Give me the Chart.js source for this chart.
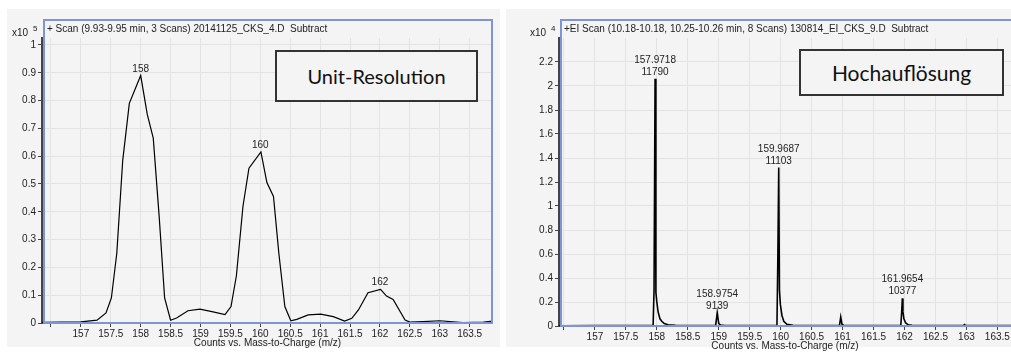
<!DOCTYPE html>
<html>
<head>
<meta charset="utf-8">
<script src="https://cdn.jsdelivr.net/npm/chart.js@4.4.0/dist/chart.umd.min.js"></script>
<style>
  body { margin: 0; background: #fff; width: 1011px; height: 353px; overflow: hidden; position: relative; }
  .panel { position: absolute; top: 9px; height: 338px; background: #f4f4f4; }
  #panelLeft { left: 7px; width: 493px; }
  #panelRight { left: 506px; width: 505px; }
  canvas { position: absolute; top: 0; }
  #leftChart { left: 0; }
  #rightChart { left: 505px; }
  .note {
    position: absolute; box-sizing: border-box; border: 2px solid #333; background: #f4f4f4;
    font-family: Lato, "Open Sans", sans-serif; font-size: 20px; color: #111;
    display: flex; align-items: center; justify-content: center;
  }
</style>
</head>
<body>
<div class="panel" id="panelLeft"></div>
<div class="panel" id="panelRight"></div>
<canvas id="leftChart" width="505" height="353"></canvas>
<canvas id="rightChart" width="506" height="353"></canvas>
<div class="note" style="left:275px;top:50px;width:203px;height:52px;">Unit-Resolution</div>
<div class="note" style="left:799px;top:49px;width:205px;height:47px;font-size:21px;">Hochauflösung</div>

<script>
// x-axis ticks (m/z), shared by both spectra
const mzTicks = [156.5, 157, 157.5, 158, 158.5, 159, 159.5, 160, 160.5, 161, 161.5, 162, 162.5, 163, 163.5];

// unit resolution scan, counts x10^5
const leftMz = [156.35, 157.0, 157.27, 157.42, 157.51, 157.60, 157.70, 157.81, 158.0, 158.11, 158.21, 158.31,
  158.40, 158.50, 158.60, 158.79, 158.99, 159.21, 159.41, 159.51, 159.60, 159.71, 159.81, 160.01, 160.11,
  160.22, 160.31, 160.41, 160.51, 160.61, 160.80, 161.01, 161.22, 161.41, 161.53, 161.64, 161.80, 162.01,
  162.11, 162.22, 162.42, 162.50, 162.72, 163.00, 163.39, 163.73, 163.89];
const leftCounts = [0.002, 0.004, 0.01, 0.036, 0.09, 0.25, 0.586, 0.79, 0.89, 0.75, 0.665, 0.38,
  0.09, 0.01, 0.018, 0.044, 0.05, 0.04, 0.03, 0.059, 0.17, 0.42, 0.557, 0.615, 0.505,
  0.455, 0.25, 0.059, 0.008, 0.013, 0.029, 0.032, 0.023, 0.007, 0.017, 0.047, 0.109, 0.121,
  0.097, 0.085, 0.011, 0.003, 0.005, 0.008, 0.001, 0.003, 0.007];
const leftYTicks = [0, 0.1, 0.2, 0.3, 0.4, 0.5, 0.6, 0.7, 0.8, 0.9, 1];
const leftPeakMz = [158, 160, 162];
const leftPeakTop = [0.89, 0.615, 0.121];
const leftPeakText = [['158'], ['160'], ['162']];

// high resolution scan, counts x10^4
const rightMz = [156.42, 157.0, 157.5, 157.94, 157.955, 157.9718, 157.985, 158.0, 158.02, 158.05, 158.08,
  158.12, 158.18, 158.3, 158.5, 158.7, 158.95, 158.9754, 159.0, 159.03, 159.1, 159.5, 159.94, 159.955,
  159.9687, 159.98, 159.995, 160.02, 160.05, 160.1, 160.2, 160.5, 160.95, 160.97, 160.99, 161.02, 161.5,
  161.94, 161.955, 161.9654, 161.975, 161.99, 162.02, 162.06, 162.12, 162.5, 162.95, 162.97, 162.99,
  163.5, 163.72];
const rightCounts = [0.002, 0.004, 0.003, 0.003, 0.3, 2.06, 0.28, 0.2, 0.12, 0.06, 0.04,
  0.02, 0.01, 0.005, 0.003, 0.003, 0.005, 0.11, 0.02, 0.008, 0.004, 0.003, 0.003, 0.6,
  1.32, 0.3, 0.18, 0.09, 0.04, 0.015, 0.006, 0.003, 0.005, 0.075, 0.015, 0.005, 0.003,
  0.004, 0.12, 0.23, 0.12, 0.06, 0.025, 0.01, 0.005, 0.003, 0.004, 0.012, 0.004,
  0.003, 0.003];
const rightYTicks = [0, 0.2, 0.4, 0.6, 0.8, 1, 1.2, 1.4, 1.6, 1.8, 2, 2.2];
const rightPeakMz = [157.9718, 158.9754, 159.9687, 161.9654];
const rightPeakTop = [2.06, 0.11, 1.32, 0.23];
const rightPeakText = [['157.9718', '11790'], ['158.9754', '9139'], ['159.9687', '11103'], ['161.9654', '10377']];

const textColor = '#222';
const smallFont = { family: '"Liberation Sans", Arial, sans-serif', size: 10 };

function spectrumChart(id, o) {
  const framePlugin = {
    id: 'frame' + id,
    afterDraw(chart) {
      const ctx = chart.ctx;
      const a = chart.chartArea;
      const xs = chart.scales.x, ys = chart.scales.y;
      ctx.save();
      // blue frame
      ctx.strokeStyle = '#7f93d9';
      ctx.lineWidth = 2;
      ctx.beginPath();
      ctx.moveTo(a.left + 2, a.bottom);
      ctx.lineTo(a.left + 2, 20);
      ctx.lineTo(a.right + (o.openRight ? 5 : -1), 20);
      ctx.lineTo(a.right + (o.openRight ? 5 : -1), a.bottom);
      ctx.closePath();
      ctx.stroke();
      // header text
      ctx.fillStyle = textColor;
      ctx.font = '10px "Liberation Sans", Arial, sans-serif';
      ctx.textBaseline = 'middle';
      ctx.textAlign = 'left';
      ctx.fillText(o.header, a.left + 5, 29);
      // exponent
      ctx.fillText('x10', o.expX, 33);
      ctx.font = '8px "Liberation Sans", Arial, sans-serif';
      ctx.fillText(o.exponent, o.expX + 21, 29);
      // peak labels
      ctx.font = '10px "Liberation Sans", Arial, sans-serif';
      ctx.textAlign = 'center';
      ctx.textBaseline = 'alphabetic';
      o.peakMz.forEach((m, i) => {
        const px = xs.getPixelForValue(m);
        const py = ys.getPixelForValue(o.peakTop[i]);
        const lines = o.peakText[i];
        lines.forEach((t, k) => {
          ctx.fillText(t, px, py - 4 - (lines.length - 1 - k) * 12);
        });
      });
      ctx.restore();
    }
  };

  return new Chart(document.getElementById(id), {
    type: 'line',
    data: {
      datasets: [{
        data: o.mz.map((m, i) => ({ x: m, y: o.counts[i] })),
        borderColor: '#000',
        borderWidth: o.lineWidth,
        pointRadius: 0,
        tension: 0
      }]
    },
    options: {
      responsive: false,
      animation: false,
      events: [],
      layout: { padding: { top: 38, right: o.padRight, left: 0, bottom: 0 } },
      plugins: { legend: { display: false }, tooltip: { enabled: false } },
      scales: {
        x: {
          type: 'linear',
          min: o.xMin,
          max: o.xMax,
          afterFit: s => { s.height = o.xAxisHeight; },
          afterBuildTicks: s => { s.ticks = mzTicks.map(v => ({ value: v })); },
          ticks: {
            font: smallFont, color: textColor, padding: 1, maxRotation: 0, autoSkip: false,
            callback: v => (v < 157 ? '' : String(v))
          },
          grid: { color: '#e3e3e3', tickColor: '#444', tickLength: 4 },
          border: { display: false },
          title: {
            display: true, text: 'Counts vs. Mass-to-Charge (m/z)', color: textColor,
            font: { family: smallFont.family, size: 10, lineHeight: 1 },
            padding: { top: 0, bottom: o.titlePad }
          }
        },
        y: {
          min: 0,
          max: o.yMax,
          afterFit: s => { s.width = o.yAxisWidth; },
          afterBuildTicks: s => { s.ticks = o.yTicks.map(v => ({ value: v })); },
          ticks: { font: smallFont, color: textColor, padding: 2, callback: v => String(+v.toFixed(2)) },
          grid: { color: '#e3e3e3', tickColor: '#444', tickLength: 4 },
          border: { display: true, color: '#444', width: 2 }
        }
      }
    },
    plugins: [framePlugin]
  });
}

spectrumChart('leftChart', {
  mz: leftMz, counts: leftCounts, yTicks: leftYTicks,
  peakMz: leftPeakMz, peakTop: leftPeakTop, peakText: leftPeakText,
  xMin: 156.35, xMax: 163.89, yMax: 1.025,
  padRight: 12, yAxisWidth: 42, xAxisHeight: 30, titlePad: 5, lineWidth: 1.2,
  header: '+ Scan (9.93-9.95 min, 3 Scans) 20141125_CKS_4.D  Subtract',
  expX: 12, exponent: '5', openRight: false
});

spectrumChart('rightChart', {
  mz: rightMz, counts: rightCounts, yTicks: rightYTicks,
  peakMz: rightPeakMz, peakTop: rightPeakTop, peakText: rightPeakText,
  xMin: 156.42, xMax: 163.72, yMax: 2.4,
  padRight: 0, yAxisWidth: 54, xAxisHeight: 27, titlePad: 2, lineWidth: 1.6,
  header: '+EI Scan (10.18-10.18, 10.25-10.26 min, 8 Scans) 130814_EI_CKS_9.D  Subtract',
  expX: 25, exponent: '4', openRight: true
});
</script>
</body>
</html>
